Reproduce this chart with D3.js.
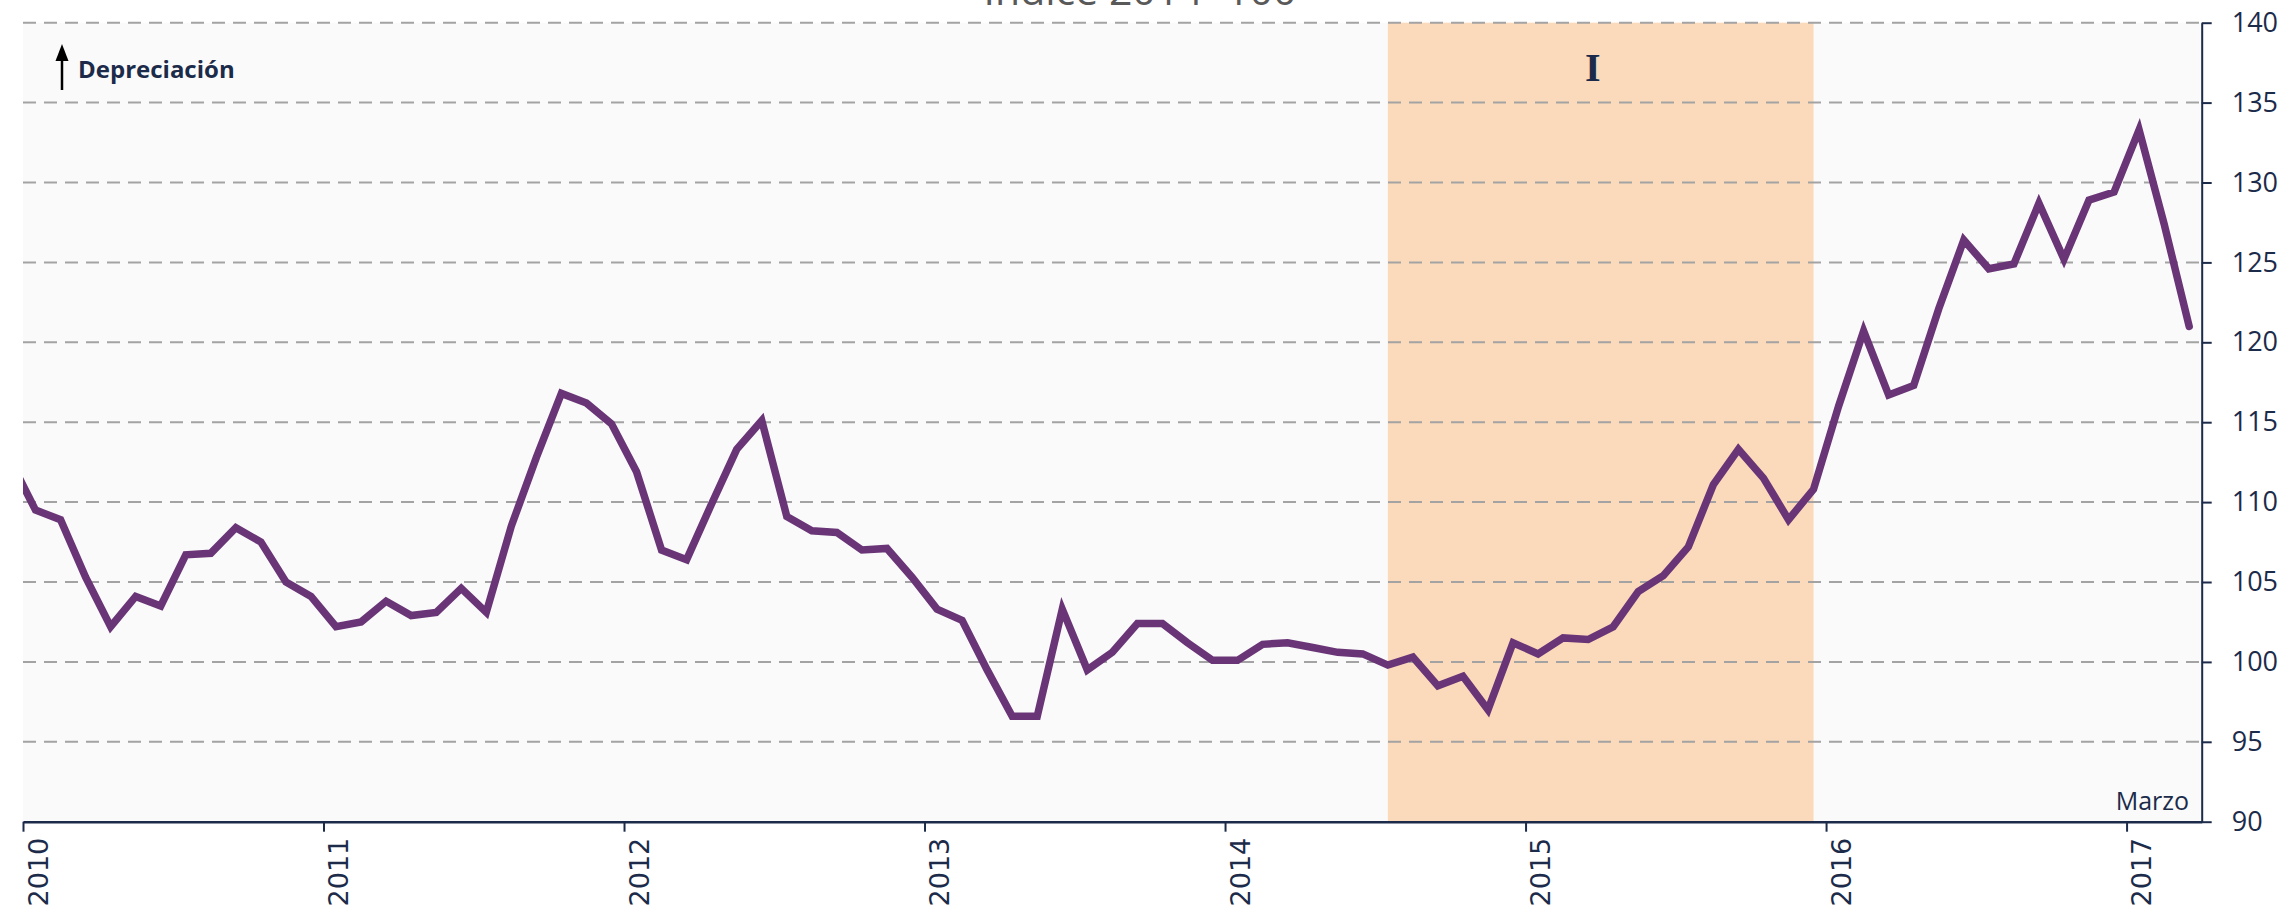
<!DOCTYPE html>
<html>
<head>
<meta charset="utf-8">
<script src="https://cdn.jsdelivr.net/npm/d3@7"></script>
<style>
  html, body { margin: 0; padding: 0; background: #ffffff; }
  svg { display: block; }
</style>
</head>
<body>
<svg id="chart" width="2287" height="910"></svg>
<script>
// ---- Data (monthly index, first value = Dec 2009, last = Mar 2017) ----
const firstMonth = { year: 2009, month: 12 };
const values = [
  112.6,                                                                         // 2009-12
  109.5, 108.9, 105.3, 102.2, 104.1, 103.5, 106.7, 106.8, 108.4, 107.5, 105.0, 104.1, // 2010
  102.2, 102.5, 103.8, 102.9, 103.1, 104.6, 103.1, 108.5, 112.8, 116.8, 116.2, 114.9, // 2011
  111.9, 107.0, 106.4, 109.9, 113.3, 115.1, 109.1, 108.2, 108.1, 107.0, 107.1, 105.3, // 2012
  103.3, 102.6, 99.5, 96.6, 96.6, 103.3, 99.5, 100.6, 102.4, 102.4, 101.2, 100.1,     // 2013
  100.1, 101.1, 101.2, 100.9, 100.6, 100.5, 99.8, 100.3, 98.5, 99.1, 97.0, 101.2,     // 2014
  100.5, 101.5, 101.4, 102.2, 104.4, 105.4, 107.2, 111.1, 113.3, 111.5, 108.9, 110.8, // 2015
  116.0, 120.7, 116.7, 117.3, 122.1, 126.4, 124.6, 124.9, 128.7, 125.2, 128.9, 129.4, // 2016
  133.3, 127.4, 121.0                                                                  // 2017
];
const yearLabels = ["2010", "2011", "2012", "2013", "2014", "2015", "2016", "2017"];
const yTicks = [90, 95, 100, 105, 110, 115, 120, 125, 130, 135, 140];
const bandMonths = ["2014-07", "2015-12"];
const bandLabel = "I";
const endLabel = "Marzo";
const arrowLabel = "Depreciación";
const titleText = "Índice 2014=100";

// ---- Layout ----
const W = 2287, H = 910;
const plot = { left: 23, right: 2201.7, top: 22.7, bottom: 821.7 };
const navy = "#1c2b4a";

function monthIndex(y, m) { return (y - 2010) * 12 + (m - 1); }
const firstIdx = monthIndex(firstMonth.year, firstMonth.month);
const series = values.map((v, i) => ({ idx: firstIdx + i, v }));

const x = d3.scaleLinear().domain([0, 87]).range([plot.left, plot.right]);
const y = d3.scaleLinear().domain([90, 140]).range([plot.bottom, plot.top]);
const xPt = idx => x(idx + 0.5);

const svg = d3.select("#chart");

// title (mostly cut off at top, as in the reference)
svg.append("text")
  .attr("x", 1140).attr("y", 5)
  .attr("text-anchor", "middle")
  .attr("font-family", "Open Sans, sans-serif")
  .attr("font-size", 41)
  .attr("fill", "#595959")
  .text(titleText);

// plot background
svg.append("rect")
  .attr("x", plot.left).attr("y", plot.top)
  .attr("width", plot.right - plot.left).attr("height", plot.bottom - plot.top)
  .attr("fill", "#fafafa");

// shaded band
const bIdx = bandMonths.map(s => { const [yy, mm] = s.split("-").map(Number); return monthIndex(yy, mm); });
svg.append("rect")
  .attr("x", xPt(bIdx[0])).attr("y", plot.top)
  .attr("width", xPt(bIdx[1]) - xPt(bIdx[0]))
  .attr("height", plot.bottom - plot.top)
  .attr("fill", "#fbdabb");

// gridlines
svg.append("g").selectAll("line")
  .data(yTicks.filter(t => t > 90))
  .join("line")
  .attr("x1", plot.left).attr("x2", plot.right)
  .attr("y1", d => y(d)).attr("y2", d => y(d))
  .attr("stroke", "#a3a3a3")
  .attr("stroke-width", 2)
  .attr("stroke-dasharray", "13,8");

// band label
svg.append("text")
  .attr("x", (xPt(bIdx[0]) + xPt(bIdx[1])) / 2 - 8).attr("y", 81)
  .attr("text-anchor", "middle")
  .attr("font-family", "Liberation Serif, serif")
  .attr("font-weight", "bold")
  .attr("font-size", 40)
  .attr("fill", navy)
  .text(bandLabel);

// line (clipped to plot area)
svg.append("clipPath").attr("id", "clip")
  .append("rect")
  .attr("x", plot.left).attr("y", plot.top)
  .attr("width", plot.right - plot.left).attr("height", plot.bottom - plot.top);

const line = d3.line().x(d => xPt(d.idx)).y(d => y(d.v));
svg.append("path")
  .datum(series)
  .attr("clip-path", "url(#clip)")
  .attr("d", line)
  .attr("fill", "none")
  .attr("stroke", "#6a3577")
  .attr("stroke-width", 7.5)
  .attr("stroke-linejoin", "miter")
  .attr("stroke-miterlimit", 4)
  .attr("stroke-linecap", "round");

// x axis
const xAxis = d3.axisBottom(x)
  .tickValues(yearLabels.map((_, i) => i * 12))
  .tickFormat((d, i) => yearLabels[i])
  .tickSize(10).tickSizeOuter(0);
const gx = svg.append("g").attr("transform", `translate(0,${plot.bottom})`).call(xAxis);
gx.select(".domain").attr("stroke", navy).attr("stroke-width", 2.5);
gx.selectAll(".tick line").attr("stroke", navy).attr("stroke-width", 2);
gx.selectAll(".tick text")
  .attr("font-family", "DejaVu Sans, sans-serif")
  .attr("font-size", 27)
  .attr("fill", navy)
  .attr("text-anchor", "end")
  .attr("dy", null)
  .attr("y", null)
  .attr("transform", "translate(24,16) rotate(-90)");

// y axis (right)
const yAxis = d3.axisRight(y)
  .tickValues(yTicks)
  .tickFormat(d3.format("d"))
  .tickSize(10).tickSizeOuter(0).tickPadding(20);
const gy = svg.append("g").attr("transform", `translate(${plot.right},0)`).call(yAxis);
gy.select(".domain").attr("stroke", navy).attr("stroke-width", 2);
gy.selectAll(".tick line").attr("stroke", navy).attr("stroke-width", 2);
gy.selectAll(".tick text")
  .attr("font-family", "Open Sans, sans-serif")
  .attr("font-size", 27)
  .attr("fill", navy);

// "Marzo" label
svg.append("text")
  .attr("x", 2189).attr("y", 810)
  .attr("text-anchor", "end")
  .attr("font-family", "Open Sans, sans-serif")
  .attr("font-size", 25)
  .attr("fill", navy)
  .text(endLabel);

// Depreciación arrow + label
const ag = svg.append("g");
ag.append("line")
  .attr("x1", 62).attr("x2", 62).attr("y1", 90).attr("y2", 58)
  .attr("stroke", "#000").attr("stroke-width", 2.5);
ag.append("path")
  .attr("d", "M55.5,61 L68.5,61 L62,44 Z")
  .attr("fill", "#000");
svg.append("text")
  .attr("x", 78).attr("y", 78)
  .attr("font-family", "Open Sans, sans-serif")
  .attr("font-weight", "bold")
  .attr("font-size", 24)
  .attr("fill", navy)
  .text(arrowLabel);
</script>
</body>
</html>
